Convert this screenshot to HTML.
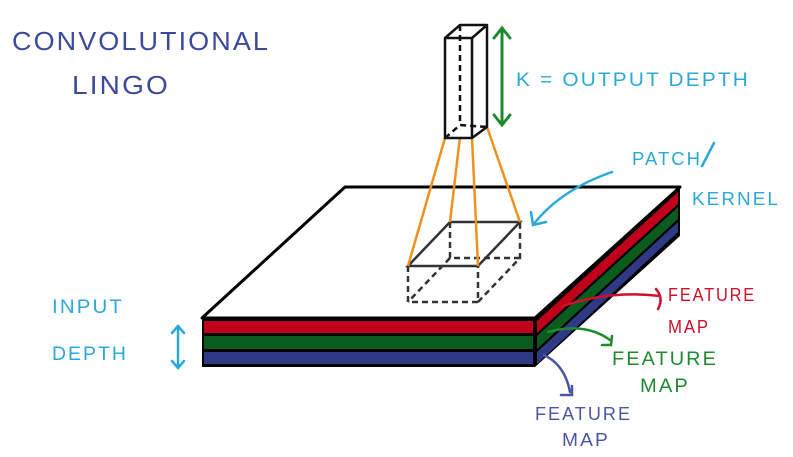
<!DOCTYPE html>
<html><head><meta charset="utf-8"><style>
body{margin:0;background:#fff;width:793px;height:457px;overflow:hidden}
svg{display:block}
text{font-family:"Liberation Sans",sans-serif;letter-spacing:2px}
</style></head><body>
<svg width="793" height="457" viewBox="0 0 793 457">
<rect x="202" y="318" width="333" height="49" fill="#000"/>
<rect x="204" y="321" width="329" height="12" fill="#c0001a"/>
<rect x="204" y="336" width="329" height="13" fill="#0b5a1e"/>
<rect x="204" y="352" width="329" height="12" fill="#2e3a86"/>
<polygon points="535,318 680,187 680,236 535,367" fill="#000"/>
<polygon points="537,321 678,192 678,204 537,333" fill="#c0001a"/>
<polygon points="537,336 678,207 678,219 537,349" fill="#0b5a1e"/>
<polygon points="537,352 678,222 678,232 537,364" fill="#2e3a86"/>
<polygon points="345,187 680,187 535,318 202,318" fill="#fff" stroke="#000" stroke-width="3" stroke-linejoin="round"/>
<g stroke="#333" stroke-width="2.5" fill="none">
<polygon points="408,266 478,266 520,222 450,222"/>
<g stroke-dasharray="6,4">
<polyline points="408,266 408,302 478,302 478,266"/>
<polyline points="478,302 520,258 520,222"/>
<polyline points="450,222 450,258 520,258"/>
<line x1="450" y1="258" x2="408" y2="302"/>
</g></g>
<g stroke="#f0901e" stroke-width="2.5">
<line x1="445" y1="138" x2="408" y2="266"/>
<line x1="460" y1="137" x2="450" y2="222"/>
<line x1="472" y1="138" x2="478" y2="266"/>
<line x1="487" y1="127" x2="520" y2="222"/>
</g>
<g stroke="#111" stroke-width="2.5" fill="#fff" stroke-linejoin="round">
<polygon points="445,38 460,25 487,25 487,127 472,138 445,138"/>
<polyline points="445,38 472,38 487,25" fill="none"/>
<line x1="472" y1="38" x2="472" y2="138"/>
<g stroke-dasharray="6,4" fill="none"><line x1="460" y1="25" x2="460" y2="125"/><polyline points="445,138 460,125 487,127"/></g>
</g>
<g stroke="#1d8a2e" stroke-width="3" fill="none" stroke-linecap="round">
<line x1="502" y1="28" x2="502" y2="125"/>
<polyline points="494,38 502,28 510,38"/><polyline points="494,115 502,125 510,115"/>
</g>
<text x="516" y="86" font-size="19" fill="#2aa9d8" textLength="234" lengthAdjust="spacingAndGlyphs">K = OUTPUT DEPTH</text>
<g stroke="#2aa9d8" stroke-width="2.5" fill="none" stroke-linecap="round">
<path d="M612,172 Q560,190 533,225"/><polyline points="531,212 533,225 546,222"/>
<path d="M702,166 L714,143"/>
</g>
<text x="632" y="165" font-size="18" fill="#2aa9d8" textLength="70" lengthAdjust="spacingAndGlyphs">PATCH</text>
<text x="692" y="205" font-size="18" fill="#2aa9d8" textLength="88" lengthAdjust="spacingAndGlyphs">KERNEL</text>
<text x="52" y="313" font-size="19" fill="#2aa9d8" textLength="72" lengthAdjust="spacingAndGlyphs">INPUT</text>
<text x="52" y="360" font-size="19" fill="#2aa9d8" textLength="76" lengthAdjust="spacingAndGlyphs">DEPTH</text>
<g stroke="#2aa9d8" stroke-width="2.5" fill="none" stroke-linecap="round">
<line x1="178" y1="326" x2="178" y2="368"/><polyline points="172,333 178,326 184,333"/><polyline points="172,361 178,368 184,361"/>
</g>
<g stroke-width="2.5" fill="none" stroke-linecap="round">
<path d="M563,306 Q610,290 660,296" stroke="#d0102a"/><path d="M656,289 Q664,298 658,309" stroke="#d0102a"/>
<path d="M548,332 Q585,322 610,340" stroke="#1d8a2e"/><path d="M602,345 L611,345 L612,336" stroke="#1d8a2e"/>
<path d="M544,355 Q565,365 570,392" stroke="#4a56a6"/><path d="M561,395 L572,395 L572,386" stroke="#4a56a6"/>
</g>
<text x="668" y="301" font-size="18" fill="#d0102a" textLength="88" lengthAdjust="spacingAndGlyphs">FEATURE</text>
<text x="668" y="333" font-size="18" fill="#d0102a" textLength="42" lengthAdjust="spacingAndGlyphs">MAP</text>
<text x="612" y="365" font-size="19" fill="#1d8a2e" textLength="106" lengthAdjust="spacingAndGlyphs">FEATURE</text>
<text x="640" y="392" font-size="19" fill="#1d8a2e" textLength="50" lengthAdjust="spacingAndGlyphs">MAP</text>
<text x="535" y="420" font-size="18" fill="#4a56a6" textLength="97" lengthAdjust="spacingAndGlyphs">FEATURE</text>
<text x="562" y="446" font-size="18" fill="#4a56a6" textLength="48" lengthAdjust="spacingAndGlyphs">MAP</text>
<text x="12" y="50" font-size="26" fill="#3c4a9c" textLength="258" lengthAdjust="spacingAndGlyphs">CONVOLUTIONAL</text>
<text x="72" y="94" font-size="26" fill="#3c4a9c" textLength="98" lengthAdjust="spacingAndGlyphs">LINGO</text>
</svg>
</body></html>
